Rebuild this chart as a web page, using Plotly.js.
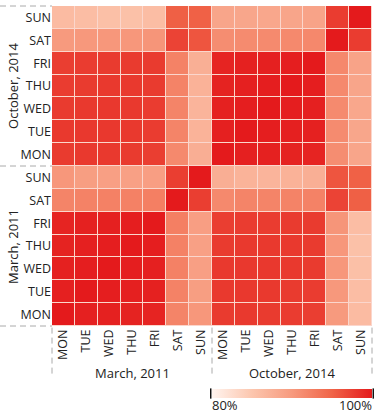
<!DOCTYPE html>
<html>
<head>
<meta charset="utf-8">
<script src="https://cdn.plot.ly/plotly-3.0.1.min.js"></script>
<style>html,body{margin:0;padding:0;background:#fff;}#chart{width:377px;height:417px;}</style>
</head>
<body>
<div id="chart"></div>
<script>
var months = ['March, 2011', 'October, 2014'];
var days = ['MON', 'TUE', 'WED', 'THU', 'FRI', 'SAT', 'SUN'];
var cbLabels = ['80%', '100%'];
var zMin = 80, zMax = 100;

// Correlation (%) rows: bottom->top (March MON..SUN, October MON..SUN); cols: left->right same order
var rowMarMON = [100, 99.6, 99.5, 99.4, 99.3, 92.0, 90.3, 97.8, 97.9, 97.8, 97.7, 97.6, 90.0, 86.3];
var rowMarTUE = [99.6, 100, 99.7, 99.6, 99.5, 92.2, 89.6, 97.9, 98.0, 97.9, 97.8, 97.7, 90.2, 86.0];
var rowMarWED = [99.5, 99.7, 100, 99.7, 99.6, 92.3, 89.4, 97.9, 98.0, 98.0, 97.9, 97.8, 90.3, 85.7];
var rowMarTHU = [99.4, 99.6, 99.7, 100, 99.7, 92.3, 89.3, 97.8, 97.9, 97.9, 97.9, 97.8, 90.3, 85.6];
var rowMarFRI = [99.3, 99.5, 99.6, 99.7, 100, 92.5, 89.5, 97.6, 97.7, 97.7, 97.8, 97.8, 90.5, 86.0];
var rowMarSAT = [92.0, 92.2, 92.3, 92.3, 92.5, 100, 97.6, 91.6, 92.0, 92.0, 92.1, 92.2, 97.2, 95.3];
var rowMarSUN = [90.3, 89.6, 89.4, 89.3, 89.5, 97.6, 100, 87.7, 87.2, 87.0, 87.3, 87.6, 96.0, 95.2];
var rowOctMON = [97.8, 97.9, 97.9, 97.8, 97.6, 91.6, 87.7, 100, 99.6, 99.5, 99.4, 99.3, 91.2, 88.8];
var rowOctTUE = [97.9, 98.0, 98.0, 97.9, 97.7, 92.0, 87.2, 99.6, 100, 99.7, 99.6, 99.5, 91.4, 88.6];
var rowOctWED = [97.8, 97.9, 98.0, 97.9, 97.7, 92.0, 87.0, 99.5, 99.7, 100, 99.7, 99.6, 91.5, 88.5];
var rowOctTHU = [97.7, 97.8, 97.9, 97.9, 97.8, 92.1, 87.3, 99.4, 99.6, 99.7, 100, 99.7, 91.6, 88.7];
var rowOctFRI = [97.6, 97.7, 97.8, 97.8, 97.8, 92.2, 87.6, 99.3, 99.5, 99.6, 99.7, 100, 91.7, 89.0];
var rowOctSAT = [90.0, 90.2, 90.3, 90.3, 90.5, 97.2, 96.0, 91.2, 91.4, 91.5, 91.6, 91.7, 100, 97.7];
var rowOctSUN = [86.3, 86.0, 85.7, 85.6, 86.0, 95.3, 95.2, 88.8, 88.6, 88.5, 88.7, 89.0, 97.7, 100];

var z = [rowMarMON, rowMarTUE, rowMarWED, rowMarTHU, rowMarFRI, rowMarSAT, rowMarSUN,
         rowOctMON, rowOctTUE, rowOctWED, rowOctTHU, rowOctFRI, rowOctSAT, rowOctSUN];

var tickText = [];
var tickVals = [];
months.forEach(function (m, mi) {
  days.forEach(function (d, di) {
    tickText.push(d);
    tickVals.push(mi * days.length + di);
  });
});

var font = 'Open Sans, Noto Sans, sans-serif';
var txt = '#222';

var trace = {
  type: 'heatmap',
  z: z,
  x: tickVals,
  y: tickVals,
  zmin: zMin,
  zmax: zMax,
  xgap: 1,
  ygap: 1,
  colorscale: [[0, '#fff4ef'], [0.25, '#fcc6ae'], [0.5, '#f79a7e'], [0.75, '#f06448'], [1, '#e41a1c']],
  colorbar: {
    orientation: 'h',
    x: 1, xanchor: 'right',
    y: -0.197, yanchor: 'top',
    len: 0.5, lenmode: 'fraction',
    thickness: 9,
    xpad: 0, ypad: 0,
    outlinewidth: 0,
    showticklabels: false,
    ticks: ''
  },
  hoverinfo: 'z'
};

var dashColor = '#aaaaaa';
var dashStyle = '6px,4px';
var shapes = [];
[0, 0.5, 1].forEach(function (p) {
  shapes.push({type: 'line', xref: 'paper', yref: 'paper', x0: -0.1625, x1: 0, y0: p, y1: p,
    line: {color: dashColor, width: 1, dash: dashStyle}});
  shapes.push({type: 'line', xref: 'paper', yref: 'paper', x0: p, x1: p, y0: -0.005, y1: -0.155,
    line: {color: dashColor, width: 1, dash: dashStyle}});
});
// colorbar end marks
[0.5, 1].forEach(function (p, i) {
  var off = i === 0 ? -0.004 : 0.004;
  shapes.push({type: 'line', xref: 'paper', yref: 'paper', x0: p + off, x1: p + off, y0: -0.195, y1: -0.227,
    line: {color: '#111', width: 1.5}});
});

var annotations = [];
months.forEach(function (m, i) {
  annotations.push({text: m, xref: 'paper', yref: 'paper', x: 0.25 + 0.5 * i, y: -0.147,
    xanchor: 'center', yanchor: 'middle', showarrow: false, font: {family: font, size: 13, color: txt}});
  annotations.push({text: m, xref: 'paper', yref: 'paper', x: -0.122, y: 0.25 + 0.5 * i,
    xanchor: 'center', yanchor: 'middle', textangle: -90, showarrow: false, font: {family: font, size: 13, color: txt}});
});
annotations.push({text: cbLabels[0], xref: 'paper', yref: 'paper', x: 0.493, y: -0.247,
  xanchor: 'left', yanchor: 'middle', showarrow: false, font: {family: font, size: 13, color: txt}});
annotations.push({text: cbLabels[1], xref: 'paper', yref: 'paper', x: 1.006, y: -0.247,
  xanchor: 'right', yanchor: 'middle', showarrow: false, font: {family: font, size: 13, color: txt}});

var layout = {
  width: 377, height: 417,
  margin: {l: 52, r: 5, t: 6, b: 91, pad: 0},
  paper_bgcolor: '#ffffff',
  plot_bgcolor: '#fbd6cc',
  font: {family: font, size: 12, color: txt},
  xaxis: {
    tickvals: tickVals, ticktext: tickText, tickangle: -90,
    range: [-0.5, 13.5], showgrid: false, zeroline: false, showline: false,
    ticks: '', tickfont: {size: 12.5, color: txt}, fixedrange: true
  },
  yaxis: {
    tickvals: tickVals, ticktext: tickText,
    range: [-0.5, 13.5], showgrid: false, zeroline: false, showline: false,
    ticks: '', tickfont: {size: 12.5, color: txt}, fixedrange: true
  },
  shapes: shapes,
  annotations: annotations,
  showlegend: false
};

Plotly.newPlot('chart', [trace], layout, {displayModeBar: false, staticPlot: true});
</script>
</body>
</html>
